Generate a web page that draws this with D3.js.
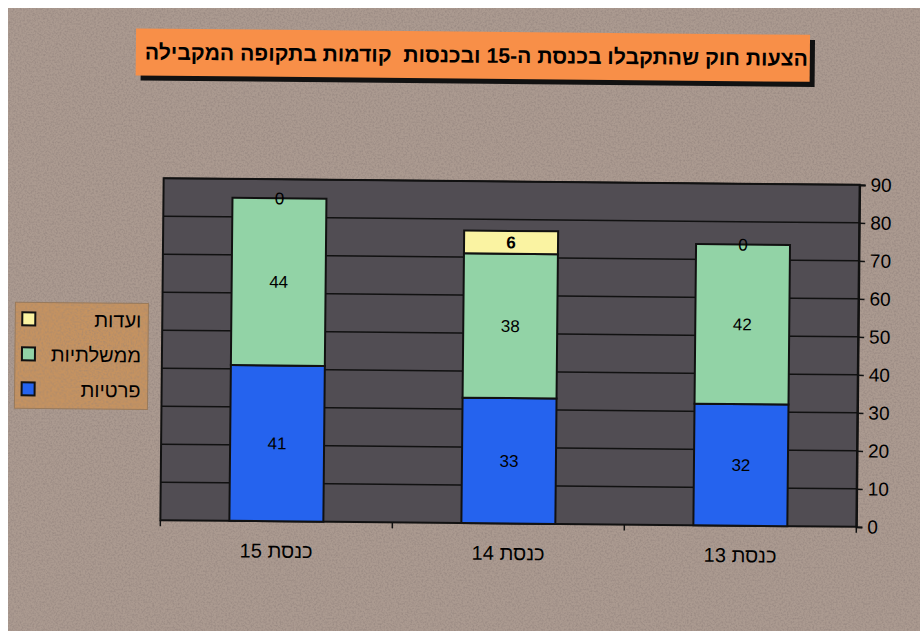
<!DOCTYPE html>
<html>
<head>
<meta charset="utf-8">
<script src="https://cdn.jsdelivr.net/npm/d3@7"></script>
<style>
  html, body { margin: 0; padding: 0; background: #ffffff; }
  svg { display: block; }
</style>
</head>
<body>
<div id="chart"></div>
<script>
// ---- Data ----
const titleText = "הצעות חוק שהתקבלו בכנסת ה-15 ובכנסות  קודמות בתקופה המקבילה";
const categories = ["כנסת 15", "כנסת 14", "כנסת 13"];
const seriesNames = ["פרטיות", "ממשלתיות", "ועדות"];
const privateBills = [41, 33, 32];
const governmentBills = [44, 38, 42];
const committeeBills = [0, 6, 0];
const yTicks = [0, 10, 20, 30, 40, 50, 60, 70, 80, 90];
const legendOrder = ["ועדות", "ממשלתיות", "פרטיות"];

const seriesColors = { "פרטיות": "#2563ee", "ממשלתיות": "#92d3a6", "ועדות": "#faf3a2" };

const W = 920, H = 631;
const svg = d3.select("#chart").append("svg").attr("width", W).attr("height", H);

// textures
const defs = svg.append("defs");
const f1 = defs.append("filter").attr("id", "noise").attr("x", 0).attr("y", 0).attr("width", "100%").attr("height", "100%");
f1.append("feTurbulence").attr("type", "fractalNoise").attr("baseFrequency", 0.55).attr("numOctaves", 2).attr("seed", 3).attr("result", "t");
f1.append("feColorMatrix").attr("in", "t").attr("type", "matrix")
  .attr("values", "0 0 0 0 0.28  0 0 0 0 0.22  0 0 0 0 0.2  0 0 0 -2.2 1.35").attr("result", "n");
f1.append("feComposite").attr("in", "n").attr("in2", "SourceGraphic").attr("operator", "in");

svg.append("rect").attr("x", 0).attr("y", 0).attr("width", W).attr("height", H).attr("fill", "#ffffff");
svg.append("rect").attr("x", 8).attr("y", 8).attr("width", W - 8).attr("height", H - 8).attr("fill", "#ab9a90");
svg.append("rect").attr("x", 8).attr("y", 8).attr("width", W - 8).attr("height", H - 8).attr("fill", "#ab9a90").attr("filter", "url(#noise)").attr("opacity", 0.6);

const g = svg.append("g").attr("transform", "rotate(0.55, 510, 352)");
const FONT = "Liberation Sans, Arial, sans-serif";

// ---- Title ----
const tb = { x: 133, y: 32, w: 674, h: 47 };
g.append("rect").attr("x", tb.x + 5).attr("y", tb.y + 5).attr("width", tb.w).attr("height", tb.h).attr("fill", "#111");
g.append("rect").attr("x", tb.x).attr("y", tb.y).attr("width", tb.w).attr("height", tb.h).attr("fill", "#f88f48");
g.append("text").attr("x", tb.x + tb.w - 2).attr("y", tb.y + 31)
  .attr("direction", "rtl").attr("text-anchor", "start")
  .style("white-space", "pre").attr("xml:space", "preserve")
  .attr("font-family", FONT).attr("font-weight", "bold")
  .attr("font-size", 21.2).attr("fill", "#000").text(titleText);

// ---- Plot ----
const plot = { left: 162, right: 858, top: 181.5, bottom: 523.5 };
const x = d3.scaleBand().domain(categories).range([plot.left, plot.right]).paddingInner(0.595).paddingOuter(0.2975);
const y = d3.scaleLinear().domain([0, 90]).range([plot.bottom, plot.top]);

g.append("rect").attr("x", plot.left).attr("y", plot.top).attr("width", plot.right - plot.left)
  .attr("height", plot.bottom - plot.top).attr("fill", "#514d53");

// gridlines
g.append("g").selectAll("line").data(yTicks.filter(d => d > 0)).join("line")
  .attr("x1", plot.left).attr("x2", plot.right)
  .attr("y1", d => y(d)).attr("y2", d => y(d))
  .attr("stroke", "#111").attr("stroke-width", 1.5);

g.append("rect").attr("x", plot.left).attr("y", plot.top).attr("width", plot.right - plot.left)
  .attr("height", plot.bottom - plot.top).attr("fill", "none").attr("stroke", "#111").attr("stroke-width", 2);

// stacked bars
const rows = categories.map((c, i) => ({ cat: c, "פרטיות": privateBills[i], "ממשלתיות": governmentBills[i], "ועדות": committeeBills[i] }));
const stack = d3.stack().keys(seriesNames)(rows);

const layers = g.append("g").selectAll("g").data(stack).join("g").attr("fill", d => seriesColors[d.key]);
layers.selectAll("rect").data(d => d).join("rect")
  .attr("x", d => x(d.data.cat)).attr("width", x.bandwidth())
  .attr("y", d => y(d[1])).attr("height", d => y(d[0]) - y(d[1]))
  .attr("stroke", "#111").attr("stroke-width", 2);

// value labels
const labels = g.append("g").attr("font-family", FONT).attr("font-size", 17).attr("text-anchor", "middle").attr("fill", "#000");
stack.forEach(layer => {
  layer.forEach(d => {
    const v = d[1] - d[0];
    labels.append("text")
      .attr("x", x(d.data.cat) + x.bandwidth() / 2)
      .attr("y", (y(d[0]) + y(d[1])) / 2 + 6)
      .attr("font-weight", layer.key === "ועדות" && v > 0 ? "bold" : "normal")
      .text(v);
  });
});

// right axis
const yAxis = d3.axisRight(y).tickValues(yTicks).tickSize(6).tickPadding(5);
const ya = g.append("g").attr("transform", `translate(${plot.right},0)`).call(yAxis);
ya.select(".domain").attr("stroke", "#111").attr("stroke-width", 2);
ya.selectAll(".tick line").attr("stroke", "#111").attr("stroke-width", 1.5);
ya.selectAll(".tick text").attr("font-family", FONT).attr("font-size", 19).attr("fill", "#000");

// bottom axis: tick marks at category boundaries
const bounds = [plot.left, ...categories.slice(1).map(c => x(c) - x.step() * x.paddingInner() / 2), plot.right];
g.append("g").selectAll("line").data(bounds).join("line")
  .attr("x1", d => d).attr("x2", d => d).attr("y1", plot.bottom).attr("y2", plot.bottom + 6)
  .attr("stroke", "#111").attr("stroke-width", 1.5);

g.append("g").selectAll("text").data(categories).join("text")
  .attr("x", d => x(d) + x.bandwidth() / 2).attr("y", 560)
  .attr("text-anchor", "middle").attr("direction", "rtl")
  .attr("font-family", FONT).attr("font-size", 20).attr("fill", "#000")
  .text(d => d);

// ---- Legend ----
const lg = g.append("g");
lg.append("rect").attr("x", 15).attr("y", 307).attr("width", 133).attr("height", 106).attr("fill", "#c69360").attr("stroke", "#9a7a5a").attr("stroke-width", 1);
lg.append("rect").attr("x", 15).attr("y", 307).attr("width", 133).attr("height", 106).attr("fill", "#b07e4e").attr("filter", "url(#noise)").attr("opacity", 0.45);
legendOrder.forEach((k, i) => {
  const yy = 324 + i * 35;
  lg.append("rect").attr("x", 22).attr("y", yy - 7).attr("width", 13).attr("height", 13)
    .attr("fill", seriesColors[k]).attr("stroke", "#111").attr("stroke-width", 2);
  lg.append("text").attr("x", 141).attr("y", yy + 7).attr("direction", "rtl").attr("text-anchor", "start")
    .attr("font-family", FONT).attr("font-size", 20).attr("fill", "#000").text(k);
});
</script>
</body>
</html>
